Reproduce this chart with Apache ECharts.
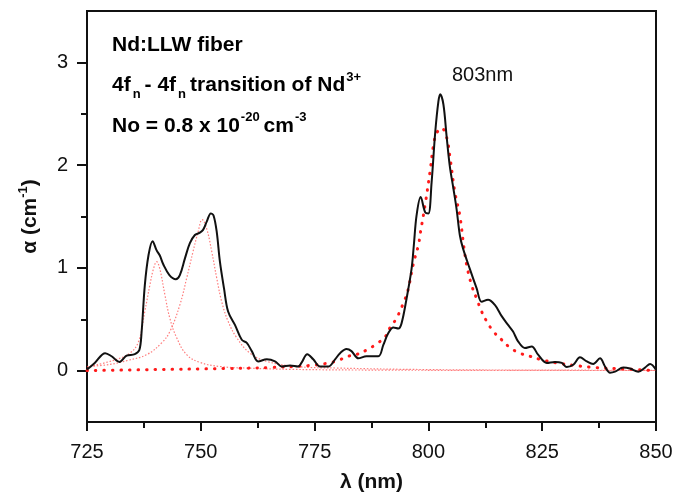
<!DOCTYPE html>
<html>
<head>
<meta charset="utf-8">
<script src="https://cdn.jsdelivr.net/npm/echarts@6.0.0/dist/echarts.min.js"></script>
<style>
html, body { margin: 0; padding: 0; background: #fff; }
#chart { width: 691px; height: 498px; }
</style>
</head>
<body>
<div id="chart"></div>
<script>
// measured absorption spectrum (black line)
const measWl = [725, 726.7, 729, 730.4, 732.1, 733.7, 735.5, 736.5, 737, 737.7, 738.5, 739.4, 740.3, 741, 741.8,
  743.1, 744.5, 745.4, 746.5, 747.6, 748.7, 749.7, 750.5, 751.3, 752.2, 752.8, 753.5, 754.2, 755.1, 756,
  757.5, 759, 760.1, 761.2, 762.6, 764.5, 766.3, 767.8, 769.6, 771.4, 772.1, 773.4, 774.7, 776.2, 778,
  779.5, 780.6, 782, 783.1, 784.6, 786.4, 789, 790.1, 791.2, 792.3, 793.4, 794.1, 795.2, 796.3, 796.8,
  797.4, 798.3, 799.3, 800, 800.7, 801.5, 802.2, 802.6, 803.3, 804, 804.7, 805.5, 806.2, 806.9, 807.6,
  809.1, 810.6, 811.7, 813.1, 814.6, 816.1, 817.5, 818.6, 819.7, 821.2, 822.7, 824.1, 826, 827.8, 829.3,
  830.4, 831.9, 833.3, 834.8, 836.2, 837.7, 838.8, 839.9, 841, 842.8, 844.3, 846.1, 847.6, 848.7, 850]
const measAbs = [0.01, 0.075, 0.17, 0.14, 0.085, 0.145, 0.16, 0.2, 0.38, 0.83, 1.12, 1.26, 1.17, 1.12, 1.03,
  0.93, 0.89, 0.93, 1.09, 1.24, 1.32, 1.34, 1.37, 1.45, 1.53, 1.51, 1.35, 1.06, 0.8, 0.575,
  0.445, 0.3, 0.27, 0.19, 0.09, 0.11, 0.09, 0.04, 0.05, 0.04, 0.075, 0.16, 0.11, 0.04, 0.04,
  0.11, 0.17, 0.21, 0.19, 0.12, 0.14, 0.14, 0.25, 0.365, 0.42, 0.41, 0.46, 0.7, 0.99, 1.22,
  1.51, 1.69, 1.54, 1.53, 1.83, 2.32, 2.62, 2.69, 2.59, 2.28, 1.99, 1.77, 1.57, 1.32, 1.19,
  0.99, 0.8, 0.67, 0.69, 0.64, 0.53, 0.445, 0.38, 0.285, 0.22, 0.235, 0.155, 0.075, 0.085, 0.075,
  0.035, 0.06, 0.13, 0.09, 0.065, 0.12, 0.04, -0.02, -0.01, 0.03, 0.02, -0.01, 0.03, 0.065, 0.01]

// fitted band at ~740 nm (thin dotted)
const fitAWl = [725, 730.8, 734.4, 736.3, 737.7, 738.8, 739.6, 740.3, 741, 742.1, 743.2, 744.7, 746.9, 749.8,
  754.2, 760, 770, 790, 820, 850]
const fitAAbs = [0.035, 0.1, 0.17, 0.28, 0.575, 0.83, 0.99, 1.06, 0.99, 0.74, 0.51, 0.32, 0.155, 0.08,
  0.04, 0.025, 0.012, 0.005, 0.002, 0.001]

// fitted band at ~750 nm (thin dotted)
const fitBWl = [725, 730, 734, 738.1, 741.4, 743.2, 745.4, 746.9, 748.3, 749.4, 750.3, 751.3, 752.4, 753.5,
  754.6, 756, 757.9, 760.8, 764.5, 771, 780, 800, 825, 850]
const fitBAbs = [0.04, 0.06, 0.1, 0.155, 0.27, 0.38, 0.64, 0.9, 1.16, 1.35, 1.47, 1.38, 1.16, 0.9,
  0.67, 0.48, 0.32, 0.17, 0.09, 0.04, 0.025, 0.01, 0.005, 0.003]

// fitted band at 803 nm (thick dotted)
const fitCWl = [725, 740, 755, 765, 774, 778.2, 780.2, 782.4, 784.4, 786.4, 788.6, 790.5, 791.6, 793,
  794.8, 795.5, 796.7, 797.8, 798.2, 799.3, 800.4, 801.1, 801.8, 802.9, 804, 804.7, 805.8, 806.9, 807.8,
  808.4, 809.5, 810.6, 811.7, 812.8, 814.3, 816.1, 817.9, 820.1, 822.3, 824.5, 828.2, 832.2, 836.6,
  841.3, 850]
const fitCAbs = [0, 0.01, 0.02, 0.03, 0.05, 0.075, 0.1, 0.14, 0.16, 0.2, 0.26, 0.33, 0.42, 0.51,
  0.69, 0.78, 1.04, 1.22, 1.33, 1.62, 1.95, 2.19, 2.31, 2.36, 2.27, 2.09, 1.74, 1.51, 1.2,
  1.03, 0.83, 0.7, 0.575, 0.48, 0.38, 0.3, 0.225, 0.17, 0.14, 0.11, 0.075, 0.05, 0.03,
  0.02, 0]

const yMajor = [0, 1, 2, 3]
const yMinor = [0.5, 1.5, 2.5]

function pairs(xs, ys) {
  return xs.map((x, i) => [x, ys[i]])
}

const chart = echarts.init(document.getElementById('chart'), null, { renderer: 'canvas' })

const FONT = '"Liberation Sans", Arial, sans-serif'
const boldRich = {
  b: { fontFamily: FONT, fontWeight: 'bold', fontSize: 21, lineHeight: 30, color: '#111' },
  sub: { fontFamily: FONT, fontWeight: 'bold', fontSize: 13, lineHeight: 2, verticalAlign: 'bottom', color: '#111', padding: [0, 4, 0, 2] },
  sup: { fontFamily: FONT, fontWeight: 'bold', fontSize: 13, lineHeight: 6, verticalAlign: 'top', color: '#111', padding: [0, 4, 0, 1] }
}

const yAxisBase = {
  type: 'value',
  min: -0.5,
  max: 3.5,
  interval: 0.5,
  position: 'left',
  splitLine: { show: false }
}

chart.setOption({
  animation: false,
  backgroundColor: '#fff',
  grid: {
    left: 87,
    right: 35,
    top: 11,
    bottom: 74,
    show: true,
    borderColor: '#111',
    borderWidth: 2
  },
  xAxis: {
    type: 'value',
    min: 725,
    max: 850,
    interval: 25,
    name: 'λ (nm)',
    nameLocation: 'middle',
    nameGap: 50,
    nameTextStyle: { fontFamily: FONT, fontWeight: 'bold', fontSize: 21, color: '#111' },
    axisLine: { onZero: false, lineStyle: { color: '#111', width: 2 } },
    axisTick: { show: true, length: 9, lineStyle: { color: '#111', width: 2 } },
    minorTick: { show: true, splitNumber: 2, length: 6, lineStyle: { color: '#111', width: 2 } },
    axisLabel: { margin: 20, fontFamily: FONT, fontSize: 20, color: '#111' },
    splitLine: { show: false },
    minorSplitLine: { show: false }
  },
  yAxis: [
    Object.assign({}, yAxisBase, {
      name: '{a|α (cm}{s|-1}{a|)}',
      nameLocation: 'middle',
      nameGap: 44,
      nameTextStyle: {
        rich: {
          a: { fontFamily: FONT, fontWeight: 'bold', fontSize: 21, lineHeight: 26, color: '#111' },
          s: { fontFamily: FONT, fontWeight: 'bold', fontSize: 13, lineHeight: 4, verticalAlign: 'top', color: '#111' }
        }
      },
      axisLine: { onZero: false, lineStyle: { color: '#111', width: 2 } },
      axisTick: { show: true, length: 10, lineStyle: { color: '#111', width: 2 }, customValues: yMajor },
      axisLabel: { margin: 19, fontFamily: FONT, fontSize: 20, color: '#111', customValues: yMajor }
    }),
    Object.assign({}, yAxisBase, {
      axisLine: { show: false, onZero: false },
      axisTick: { show: true, length: 6, lineStyle: { color: '#111', width: 2 }, customValues: yMinor },
      axisLabel: { show: false }
    })
  ],
  graphic: [
    {
      type: 'text', x: 112, y: 45.4,
      style: { text: '{b|Nd:LLW fiber}', rich: boldRich, verticalAlign: 'middle' }
    },
    {
      type: 'text', x: 112, y: 85.7,
      style: { text: '{b|4f}{sub|n}{b|- 4f}{sub|n}{b|transition of Nd}{sup|3+}', rich: boldRich, verticalAlign: 'middle' }
    },
    {
      type: 'text', x: 112, y: 126,
      style: { text: '{b|No = 0.8 x 10}{sup|-20}{b|cm}{sup|-3}', rich: boldRich, verticalAlign: 'middle' }
    },
    {
      type: 'text', x: 452, y: 75,
      style: { text: '803nm', font: '20px "Liberation Sans", Arial, sans-serif', fill: '#111', verticalAlign: 'middle' }
    }
  ],
  series: [
    {
      name: 'band 740',
      type: 'line',
      data: pairs(fitAWl, fitAAbs),
      showSymbol: false,
      smooth: 0.4,
      lineStyle: { color: 'rgba(255,70,70,0.7)', width: 1.2, type: [1.5, 1.8] },
      z: 2
    },
    {
      name: 'band 750',
      type: 'line',
      data: pairs(fitBWl, fitBAbs),
      showSymbol: false,
      smooth: 0.4,
      lineStyle: { color: 'rgba(255,70,70,0.7)', width: 1.2, type: [1.5, 1.8] },
      z: 2
    },
    {
      name: 'band 803',
      type: 'line',
      data: pairs(fitCWl, fitCAbs),
      showSymbol: false,
      smooth: 0.4,
      lineStyle: { color: '#ff1a1a', width: 3, type: [0.5, 8], cap: 'round' },
      z: 3
    },
    {
      name: 'measured',
      type: 'line',
      data: pairs(measWl, measAbs),
      showSymbol: false,
      smooth: 0.35,
      lineStyle: { color: '#111', width: 2 },
      z: 4
    }
  ]
})
</script>
</body>
</html>
